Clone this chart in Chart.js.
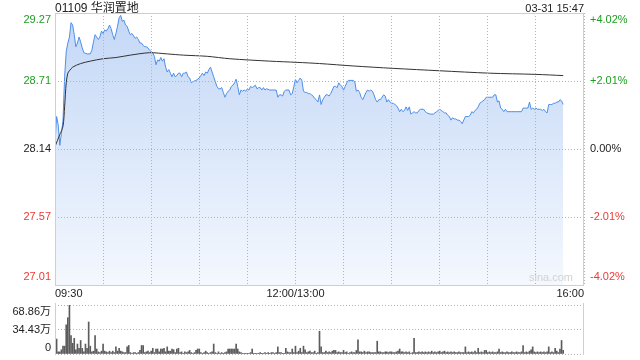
<!DOCTYPE html>
<html lang="zh">
<head>
<meta charset="UTF-8"/>
<title>01109 华润置地</title>
<script src="https://cdn.jsdelivr.net/npm/chart.js"></script>
<style>
	body { margin: 0; background: #fff; }
	.wrap { position: relative; width: 640px; height: 360px; }
	.wrap canvas { position: absolute; left: 0; top: 0; }
</style>
</head>
<body>
<div class="wrap">
	<canvas id="vol" width="640" height="360"></canvas>
	<canvas id="price" width="640" height="360"></canvas>
</div>
<script>
	const stockName = "01109 华润置地";
	const stamp = "03-31 15:47";
	const priceTicks = [27.01, 27.575, 28.14, 28.705, 29.27];
	const priceLabels = ["27.01", "27.57", "28.14", "28.71", "29.27"];
	const pctLabels = ["-4.02%", "-2.01%", "0.00%", "+2.01%", "+4.02%"];
	const timeTicks = [0, 150, 330];
	const timeLabels = ["09:30", "12:00/13:00", "16:00"];
	const volTicks = [0, 34.43, 68.86];
	const volLabels = ["0", "34.43万", "68.86万"];

	// [minute since 09:30, price]
	const pricePoints = [
		[0,28.19],[1,28.41],[2,28.34],[3,28.17],[4,28.27],[5,28.38],[6,28.74],[7,28.95],[8,29.02],[9,29.07],
		[10,29.19],[11,29.17],[12,29.09],[13,28.99],[14,29.02],[15,29.07],[16,29.03],[17,28.98],[18,28.94],[20,28.93],
		[22,28.93],[23,28.96],[24,29.03],[25,29.09],[26,29.07],[27,29.05],[28,29.07],[29,29.12],[30,29.10],[31,29.13],
		[32,29.12],[33,29.14],[34,29.17],[35,29.14],[36,29.09],[37,29.05],[38,29.10],[39,29.16],[40,29.23],[41,29.25],
		[42,29.20],[43,29.21],[44,29.17],[45,29.16],[46,29.12],[47,29.09],[48,29.10],[49,29.08],[50,29.06],[51,29.07],
		[52,29.05],[53,29.02],[54,29.02],[55,29.00],[56,28.99],[57,28.99],[58,28.98],[59,28.96],[60,28.95],[61,28.94],
		[62,28.91],[63,28.84],[64,28.88],[65,28.87],[66,28.90],[67,28.87],[68,28.89],[69,28.82],[70,28.78],[71,28.80],
		[72,28.77],[73,28.74],[74,28.77],[75,28.74],[76,28.75],[77,28.77],[78,28.77],[79,28.74],[80,28.77],[81,28.77],
		[82,28.78],[83,28.74],[84,28.73],[85,28.69],[86,28.70],[88,28.71],[90,28.73],[91,28.75],[92,28.77],[93,28.75],
		[94,28.78],[95,28.77],[96,28.80],[97,28.82],[98,28.78],[99,28.74],[100,28.70],[101,28.66],[102,28.64],[103,28.64],
		[104,28.65],[105,28.61],[106,28.57],[107,28.60],[108,28.62],[109,28.63],[110,28.66],[111,28.67],[112,28.69],[113,28.72],
		[114,28.66],[115,28.59],[116,28.63],[117,28.62],[118,28.63],[119,28.62],[120,28.64],[121,28.63],[122,28.66],[123,28.65],
		[124,28.66],[125,28.67],[126,28.64],[127,28.65],[128,28.65],[129,28.63],[130,28.65],[131,28.63],[132,28.64],[134,28.63],
		[136,28.63],[138,28.63],[139,28.57],[140,28.59],[141,28.59],[142,28.58],[143,28.62],[144,28.63],[146,28.63],[147,28.59],
		[148,28.60],[149,28.66],[150,28.72],[151,28.69],[152,28.71],[153,28.73],[154,28.71],[155,28.62],[156,28.61],[157,28.61],
		[158,28.60],[159,28.60],[160,28.59],[161,28.58],[162,28.56],[163,28.55],[164,28.53],[165,28.59],[166,28.51],[167,28.55],
		[168,28.57],[169,28.59],[170,28.59],[171,28.58],[172,28.60],[173,28.63],[174,28.66],[175,28.66],[176,28.65],[177,28.69],
		[178,28.67],[179,28.66],[180,28.63],[181,28.66],[182,28.69],[183,28.71],[184,28.71],[186,28.71],[187,28.70],[188,28.62],
		[189,28.63],[190,28.61],[191,28.57],[192,28.55],[193,28.58],[194,28.61],[195,28.63],[196,28.62],[197,28.63],[198,28.62],
		[199,28.59],[200,28.55],[201,28.53],[202,28.55],[203,28.55],[204,28.57],[205,28.59],[206,28.58],[207,28.53],[208,28.55],
		[209,28.53],[210,28.52],[211,28.52],[212,28.51],[213,28.50],[214,28.48],[215,28.45],[216,28.47],[217,28.45],[218,28.46],
		[219,28.49],[220,28.46],[221,28.49],[222,28.43],[223,28.44],[224,28.45],[225,28.44],[226,28.44],[227,28.46],[228,28.47],
		[230,28.47],[231,28.45],[232,28.44],[234,28.43],[236,28.43],[238,28.45],[240,28.47],[241,28.46],[242,28.45],[243,28.44],
		[244,28.44],[245,28.42],[246,28.41],[247,28.38],[248,28.40],[249,28.39],[250,28.39],[251,28.38],[252,28.38],[253,28.37],
		[254,28.35],[256,28.41],[258,28.41],[259,28.42],[260,28.45],[261,28.44],[262,28.46],[263,28.47],[264,28.49],[265,28.52],
		[266,28.53],[267,28.54],[268,28.55],[269,28.57],[271,28.57],[273,28.57],[274,28.59],[275,28.59],[276,28.53],[277,28.54],
		[278,28.48],[279,28.47],[280,28.45],[281,28.47],[282,28.45],[285,28.45],[288,28.45],[291,28.45],[292,28.48],[293,28.48],
		[294,28.48],[295,28.48],[296,28.53],[297,28.47],[298,28.48],[299,28.47],[300,28.48],[301,28.47],[302,28.47],[303,28.47],
		[304,28.46],[305,28.47],[306,28.45],[307,28.44],[308,28.51],[309,28.51],[310,28.51],[311,28.52],[312,28.52],[313,28.53],
		[314,28.53],[315,28.55],[316,28.54],[317,28.51]
	];

	// [minute, average price]
	const avgPoints = [
		[0,28.16],[3,28.26],[5,28.33],[6,28.49],[7,28.69],[8,28.77],[9,28.79],[11,28.82],[16,28.85],[22,28.87],
		[30,28.89],[38,28.90],[47,28.92],[59,28.94],[70,28.93],[80,28.92],[95,28.91],[109,28.89],[134,28.87],[151,28.86],
		[165,28.85],[186,28.83],[211,28.81],[240,28.79],[271,28.77],[300,28.76],[317,28.75]
	];

	// volume per minute, 万股
	const volume = [
		41,21,3,3,6,11,11,41,51,69,26,15,22,6,14,8,19,8,3,14,
		8,45,11,3,4,26,7,3,2,4,14,4,3,2,4,2,4,2,10,4,
		8,4,3,2,2,10,12,2,1,2,2,1,2,5,12,12,2,3,4,2,
		4,8,2,7,7,3,7,7,8,3,10,4,4,7,6,2,7,8,2,3,
		1,3,2,3,5,2,1,2,5,7,7,2,1,2,4,2,1,2,3,14,
		2,1,3,1,2,1,2,3,7,7,7,7,7,14,7,3,2,1,1,1,
		1,1,2,7,1,1,1,1,2,1,1,2,1,2,1,2,2,1,2,10,
		2,2,1,1,8,3,2,2,7,2,11,2,4,8,2,11,6,2,3,4,
		2,2,4,1,2,32,10,2,2,4,2,3,2,4,5,5,2,3,2,2,
		5,2,3,1,2,3,2,2,5,20,3,3,2,4,2,3,3,2,2,2,
		2,18,3,3,2,2,3,3,2,3,3,2,2,3,4,7,3,3,2,3,
		2,3,1,2,22,2,2,3,2,3,2,3,2,3,2,4,2,3,2,3,
		4,2,3,4,2,3,2,3,2,3,2,2,3,2,2,2,10,2,3,2,
		3,2,4,2,8,2,3,2,5,5,2,3,2,3,2,2,3,7,2,3,
		2,2,3,2,2,3,2,2,3,2,2,3,12,2,3,2,4,6,10,3,
		2,3,2,3,2,3,2,3,10,2,3,2,8,4,2,7,19,5
	];

	const FONT = '"Liberation Sans", Arial, "Noto Sans CJK SC", sans-serif';
	const GRID = "#b4b4b4";
	const FRAME = "#cfcfcf";
	const tickColors = ["#ec3a36", "#ec3a36", "#222", "#1e9e22", "#1e9e22"];

	function clampY(p, a, top, bottom) {
		return Math.min(Math.max(p, a.top + top), a.bottom - bottom);
	}

	const priceText = {
		id: "priceText",
		afterDraw(chart) {
			const { ctx, chartArea: a, scales } = chart;
			ctx.save();
			ctx.strokeStyle = FRAME;
			ctx.lineWidth = 1;
			ctx.strokeRect(a.left + 0.5, a.top + 0.5, a.right - a.left - 1, a.bottom - a.top);

			ctx.fillStyle = "#222";
			ctx.font = "12px " + FONT;
			ctx.textBaseline = "alphabetic";
			ctx.textAlign = "left";
			ctx.fillText(stockName, a.left, 12);
			ctx.font = "11px " + FONT;
			ctx.textAlign = "right";
			ctx.fillText(stamp, a.right, 12);

			ctx.textBaseline = "middle";
			priceTicks.forEach((v, i) => {
				const py = clampY(scales.y.getPixelForValue(v), a, 7, 8);
				ctx.fillStyle = tickColors[i];
				ctx.textAlign = "right";
				ctx.fillText(priceLabels[i], a.left - 4, py);
				ctx.textAlign = "left";
				ctx.fillText(pctLabels[i], a.right + 6, py);
			});

			ctx.fillStyle = "#222";
			timeTicks.forEach((t, i) => {
				ctx.textAlign = i === 0 ? "left" : (i === timeTicks.length - 1 ? "right" : "center");
				ctx.fillText(timeLabels[i], scales.x.getPixelForValue(t), a.bottom + 9);
			});

			ctx.fillStyle = "#d2d2d2";
			ctx.font = "11px " + FONT;
			ctx.textAlign = "right";
			ctx.fillText("sina.com", a.right - 11, a.bottom - 7);
			ctx.restore();
		}
	};

	new Chart(document.getElementById("price"), {
		type: "line",
		data: {
			datasets: [
				{
					data: pricePoints.map(p => ({ x: p[0], y: p[1] })),
					borderColor: "#4f8ee8",
					borderWidth: 1,
					pointRadius: 0,
					tension: 0,
					fill: "start",
					backgroundColor(c) {
						const a = c.chart.chartArea;
						if (!a) return "rgba(0,0,0,0)";
						const g = c.chart.ctx.createLinearGradient(0, a.top, 0, a.bottom);
						g.addColorStop(0, "#c3d7f6");
						g.addColorStop(1, "#f4f8fe");
						return g;
					},
					order: 2
				},
				{
					data: avgPoints.map(p => ({ x: p[0], y: p[1] })),
					borderColor: "#333",
					borderWidth: 1,
					pointRadius: 0,
					tension: 0.3,
					fill: false,
					order: 1
				}
			]
		},
		options: {
			responsive: false,
			animation: false,
			devicePixelRatio: 1,
			layout: { padding: { left: 55, right: 56, top: 13, bottom: 75 } },
			plugins: { legend: { display: false }, tooltip: { enabled: false } },
			scales: {
				x: {
					type: "linear", min: 0, max: 330,
					ticks: { display: false, stepSize: 30 },
					grid: { color: GRID, drawTicks: false, z: 1, borderDash: [1, 2] },
					border: { display: false, dash: [1, 2] }
				},
				y: {
					min: 27.01, max: 29.27,
					afterBuildTicks: s => { s.ticks = priceTicks.map(v => ({ value: v })); },
					ticks: { display: false },
					grid: { color: GRID, drawTicks: false, z: 1, borderDash: [1, 2] },
					border: { display: false, dash: [1, 2] }
				}
			}
		},
		plugins: [priceText]
	});

	const volText = {
		id: "volText",
		afterDraw(chart) {
			const { ctx, chartArea: a, scales } = chart;
			ctx.save();
			ctx.strokeStyle = FRAME;
			ctx.lineWidth = 1;
			ctx.beginPath();
			ctx.moveTo(a.left + 0.5, a.top - 2);
			ctx.lineTo(a.left + 0.5, a.bottom + 1);
			ctx.moveTo(a.right - 0.5, a.top - 2);
			ctx.lineTo(a.right - 0.5, a.bottom + 1);
			ctx.stroke();

			ctx.fillStyle = "#222";
			ctx.font = "11px " + FONT;
			ctx.textAlign = "right";
			ctx.textBaseline = "middle";
			volTicks.forEach((v, i) => {
				const py = clampY(scales.y.getPixelForValue(v), a, 7, 6);
				ctx.fillText(volLabels[i], a.left - 4, py);
			});
			ctx.restore();
		}
	};

	new Chart(document.getElementById("vol"), {
		type: "bar",
		data: {
			datasets: [{
				data: volume.map((v, i) => ({ x: i, y: v })),
				backgroundColor: "#5c5c5c",
				barThickness: 1
			}]
		},
		options: {
			responsive: false,
			animation: false,
			devicePixelRatio: 1,
			layout: { padding: { left: 55, right: 56, top: 305, bottom: 6 } },
			plugins: { legend: { display: false }, tooltip: { enabled: false } },
			scales: {
				x: {
					type: "linear", min: 0, max: 330, offset: false,
					ticks: { display: false },
					grid: { display: false, offset: false, drawTicks: false },
					border: { display: false }
				},
				y: {
					min: 0, max: 68.86,
					afterBuildTicks: s => { s.ticks = volTicks.map(v => ({ value: v })); },
					ticks: { display: false },
					grid: { color: GRID, drawTicks: false, borderDash: [1, 2] },
					border: { display: false, dash: [1, 2] }
				}
			}
		},
		plugins: [volText]
	});
</script>
</body>
</html>
